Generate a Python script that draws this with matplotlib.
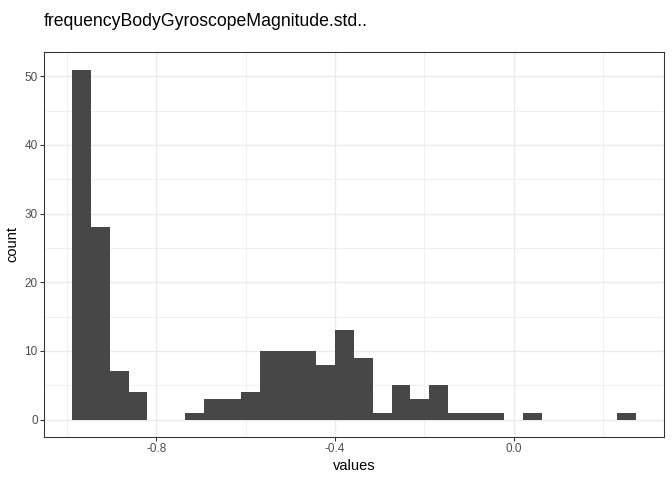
import numpy as np
import matplotlib
matplotlib.use('Agg')
import matplotlib.pyplot as plt

# histogram (30 bins)
first_edge = -0.9877
bin_width = 0.04201
counts = [51, 28, 7, 4, 0, 0, 1, 3, 3, 4,
          10, 10, 10, 8, 13, 9, 1, 5, 3, 5,
          1, 1, 1, 0, 1, 0, 0, 0, 0, 1]
x_ticks = [-0.8, -0.4, 0.0]
x_tick_labels = ['-0.8', '-0.4', '0.0']
y_ticks = [0, 10, 20, 30, 40, 50]
title = 'frequencyBodyGyroscopeMagnitude.std..'

plt.rcParams['font.family'] = ['Liberation Sans', 'DejaVu Sans']

edges = first_edge + bin_width * np.arange(len(counts) + 1)
lefts = edges[:-1]

fig = plt.figure(figsize=(7, 5), dpi=96)
ax = fig.add_axes([44 / 672, 1 - 437 / 480, 620 / 672, 385 / 480])

ax.bar(lefts, counts, width=bin_width, align='edge', color='#474747',
       linewidth=0, zorder=3)

xmin, xmax = edges[0], edges[-1]
pad = (xmax - xmin) * 0.05
ax.set_xlim(xmin - pad, xmax + pad)
ymax = max(counts)
ax.set_ylim(-ymax * 0.05, ymax * 1.05)

ax.set_xticks(x_ticks)
ax.set_xticklabels(x_tick_labels)
ax.set_yticks(y_ticks)
ax.set_xticks([-1.0, -0.6, -0.2, 0.2], minor=True)
ax.set_yticks([5, 15, 25, 35, 45], minor=True)

ax.grid(which='major', color='#ebebeb', linewidth=1.1, zorder=0)
ax.grid(which='minor', color='#ebebeb', linewidth=0.55, zorder=0)
ax.set_axisbelow(True)

ax.tick_params(which='major', length=2.75, width=0.8, color='#333333',
               labelsize=8.8, labelcolor='#4d4d4d', pad=2)
ax.tick_params(which='minor', length=0)
for sp in ax.spines.values():
    sp.set_color('#333333')
    sp.set_linewidth(0.8)

ax.set_xlabel('values', fontsize=11, labelpad=3)
ax.set_ylabel('count', fontsize=11, labelpad=4)
fig.text(44 / 672, 1 - 22 / 480, title, fontsize=13.2, va='center', ha='left')

fig.savefig('out.png', dpi=96)
